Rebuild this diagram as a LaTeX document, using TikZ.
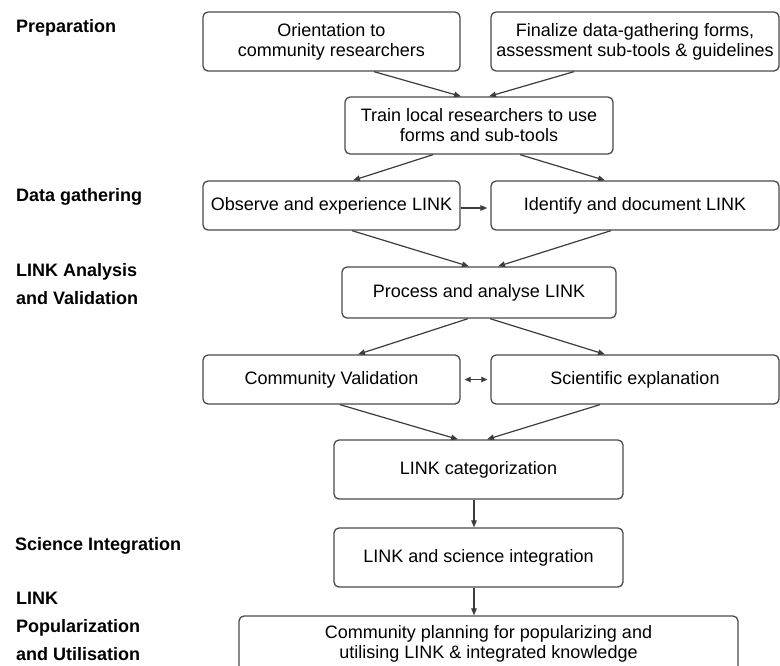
\documentclass[tikz,border=0pt]{standalone}
\usepackage{fontspec}
\setmainfont{Liberation Sans}
\usetikzlibrary{arrows.meta}
\definecolor{boxc}{HTML}{4A4A4A}
\definecolor{linec}{HTML}{3C3C3C}
\begin{document}
\begin{tikzpicture}[x=1pt,y=-1pt,
  box/.style={draw=boxc, line width=1.3pt, rounded corners=5pt, align=center, inner sep=0pt,
              font=\fontsize{18}{20}\selectfont, text=black},
  lab/.style={anchor=west, align=left, inner sep=0pt, font=\fontsize{18}{28}\selectfont\bfseries},
  arr/.style={draw=linec, line width=1.2pt, -{Triangle[length=7pt,width=5.5pt]}},
  darr/.style={draw=linec, line width=1.2pt, {Triangle[length=6pt,width=5.5pt]}-{Triangle[length=6pt,width=5.5pt]}}]
\useasboundingbox (0,0) rectangle (780,665);
\begin{scope}
\clip (0,0) rectangle (780,665);
% labels
\node[lab] (lprep) at (16,28) {Preparation};
\node[lab] (ldata) at (16,197) {Data gathering};
\node[lab] (lanal) at (16,284) {LINK Analysis\\and Validation};
\node[lab] (lsci) at (15,546) {Science Integration};
\node[lab] (lpop) at (16,626) {LINK\\Popularization\\and Utilisation};
% boxes
\node[box, minimum width=257pt, minimum height=59pt] (b1) at (331.5,41.5) {Orientation to\\community researchers};
\node[box, minimum width=288pt, minimum height=59pt] (b2) at (635,41.5) {Finalize data-gathering forms,\\assessment sub-tools \& guidelines};
\node[box, minimum width=268pt, minimum height=57pt] (b3) at (479,125.5) {Train local researchers to use\\forms and sub-tools};
\node[box, minimum width=257pt, minimum height=49pt] (b4) at (331.5,205.5) {Observe and experience LINK};
\node[box, minimum width=288pt, minimum height=49pt] (b5) at (635,205.5) {Identify and document LINK};
\node[box, minimum width=274pt, minimum height=51pt] (b6) at (479,292.5) {Process and analyse LINK};
\node[box, minimum width=257pt, minimum height=49pt] (b7) at (331.5,379.5) {Community Validation};
\node[box, minimum width=288pt, minimum height=49pt] (b8) at (635,379.5) {Scientific explanation};
\node[box, minimum width=289pt, minimum height=59pt] (b9) at (478.5,469.5) {LINK categorization};
\node[box, minimum width=289pt, minimum height=59pt] (b10) at (478.5,557.5) {LINK and science integration};
\node[box, minimum width=499pt, minimum height=56pt] (b11) at (488.5,644) {Community planning for popularizing and\\utilising LINK \& integrated knowledge};
% connectors
\draw[arr] ([xshift=42.5pt]b1.south) -- ([xshift=-18pt]b3.north);
\draw[arr] ([xshift=-61pt]b2.south) -- ([xshift=10pt]b3.north);
\draw[arr] ([xshift=-46pt]b3.south) -- ([xshift=21.5pt]b4.north);
\draw[arr] ([xshift=41pt]b3.south) -- ([xshift=-30pt]b5.north);
\draw[arr, shorten >=3pt] ([yshift=-2.5pt]b4.east) -- ([yshift=-2.5pt]b5.west);
\draw[arr] ([xshift=20.5pt]b4.south) -- ([xshift=-10pt]b6.north);
\draw[arr] ([xshift=-24pt]b5.south) -- ([xshift=19pt]b6.north);
\draw[arr] ([xshift=-11pt]b6.south) -- ([xshift=26.5pt]b7.north);
\draw[arr] ([xshift=11pt]b6.south) -- ([xshift=-30pt]b8.north);
\draw[darr, shorten <=4pt, shorten >=3pt] (b7.east) -- (b8.west);
\draw[arr] ([xshift=8.5pt]b7.south) -- ([xshift=-20.5pt]b9.north);
\draw[arr] ([xshift=-35pt]b8.south) -- ([xshift=8.5pt]b9.north);
\draw[arr] ([xshift=-4.5pt]b9.south) -- ([xshift=-4.5pt]b10.north);
\draw[arr] ([xshift=-4.5pt]b10.south) -- ([xshift=-14.5pt]b11.north);
\end{scope}
\end{tikzpicture}
\end{document}
